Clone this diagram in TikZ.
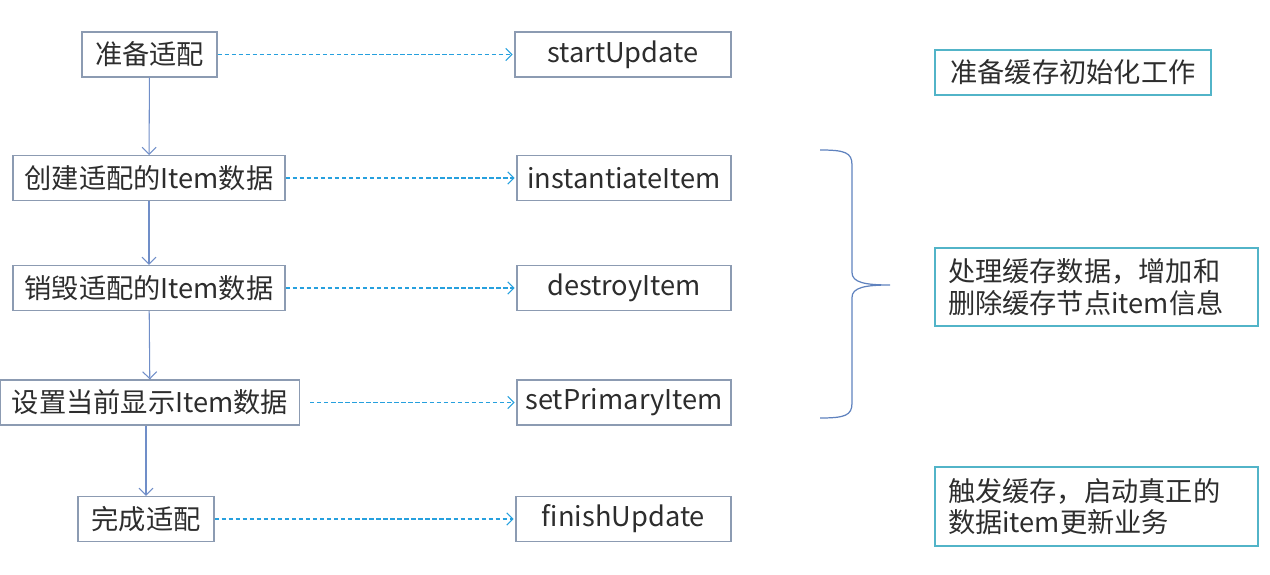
\documentclass[tikz,border=0pt]{standalone}
\usepackage{fontspec}
\newfontfamily\cjk{Noto Sans CJK SC}
\usetikzlibrary{arrows.meta}
\definecolor{boxline}{RGB}{140,155,178}
\definecolor{flowline}{RGB}{112,142,200}
\definecolor{callline}{RGB}{38,160,222}
\definecolor{noteline}{RGB}{82,180,200}
\definecolor{braceline}{RGB}{95,130,190}
\definecolor{txt}{RGB}{45,45,45}
\begin{document}
\begin{tikzpicture}[
    stepbox/.style={draw=boxline,line width=0.6pt,minimum height=0.9cm,inner sep=0pt,
      font=\cjk\fontsize{15.5}{18}\selectfont,text=txt},
    notebox/.style={draw=noteline,line width=0.7pt,inner xsep=0.26cm,inner ysep=0pt,
      align=left,font=\cjk\fontsize{15.5}{18}\selectfont,text=txt},
    flow/.style={draw=flowline,line width=0.6pt,-{Straight Barb[length=4pt,width=8pt]}},
    call/.style={draw=callline,line width=0.6pt,dash pattern=on 2.5pt off 1.5pt,
      -{Straight Barb[length=3.5pt,width=7pt]},shorten >=1pt}]
    \useasboundingbox (0,0) rectangle (25.4,-11.5);

    \node[stepbox,minimum width=2.7cm]  (S1) at (2.99,-1.09)  {准备适配};
    \node[stepbox,minimum width=5.44cm] (S2) at (2.98,-3.56)  {创建适配的Item数据};
    \node[stepbox,minimum width=5.44cm] (S3) at (2.98,-5.76)  {销毁适配的Item数据};
    \node[stepbox,minimum width=5.98cm] (S4) at (3.0,-8.05)   {设置当前显示Item数据};
    \node[stepbox,minimum width=2.72cm] (S5) at (2.92,-10.38) {完成适配};

    \node[stepbox,minimum width=4.32cm] (F1) at (12.46,-1.09)  {startUpdate};
    \node[stepbox,minimum width=4.28cm] (F2) at (12.48,-3.56)  {instantiateItem};
    \node[stepbox,minimum width=4.28cm] (F3) at (12.48,-5.76)  {destroyItem};
    \node[stepbox,minimum width=4.28cm] (F4) at (12.48,-8.05)  {setPrimaryItem};
    \node[stepbox,minimum width=4.3cm]  (F5) at (12.47,-10.38) {finishUpdate};

    \node[notebox,minimum width=5.52cm,minimum height=0.9cm] (N1) at (21.46,-1.45) {准备缓存初始化工作};
    \node[notebox,text width=5.94cm,minimum height=1.56cm] (N2) at (21.93,-5.74)
      {处理缓存数据，增加和\\删除缓存节点item信息};
    \node[notebox,text width=5.94cm,minimum height=1.58cm] (N3) at (21.93,-10.13)
      {触发缓存，启动真正的\\数据item更新业务};

    \draw[flow] (S1) -- (S2);
    \draw[flow] (S2) -- (S3);
    \draw[flow] (S3) -- (S4);
    \draw[flow] (S4.south -| S5.north) -- (S5.north);

    \draw[call] (S1) -- (F1);
    \draw[call] (S2) -- (F2);
    \draw[call] (S3) -- (F3);
    \draw[call,shorten <=0.2cm] (S4) -- (F4);
    \draw[call] (S5) -- (F5);

    % brace over the three middle calls
    \draw[braceline,line width=0.7pt] (16.4,-3.0) .. controls (16.9,-3.0) and (17.04,-3.05) .. (17.04,-3.3)
      -- (17.04,-5.45) .. controls (17.04,-5.65) and (17.3,-5.7) .. (17.8,-5.7)
      .. controls (17.3,-5.7) and (17.04,-5.75) .. (17.04,-5.95)
      -- (17.04,-8.06) .. controls (17.04,-8.31) and (16.9,-8.36) .. (16.4,-8.36);
\end{tikzpicture}
\end{document}
